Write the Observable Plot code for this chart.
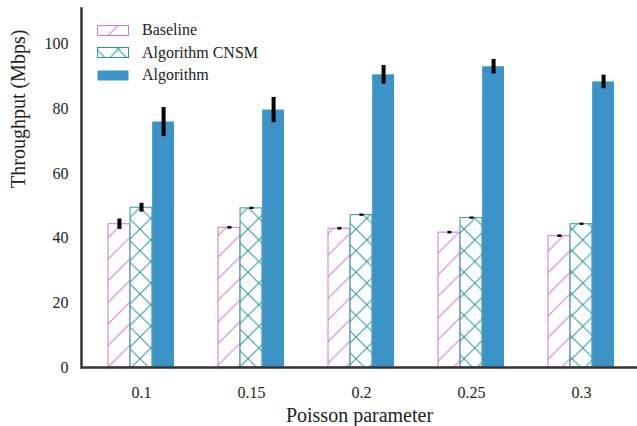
<!DOCTYPE html>
<html>
<head>
<meta charset="utf-8">
<script src="https://cdn.jsdelivr.net/npm/d3@7"></script>
<script src="https://cdn.jsdelivr.net/npm/@observablehq/plot@0.6"></script>
<style>
  html, body { margin: 0; padding: 0; background: #fff; }
  #wrap { position: relative; width: 637px; height: 426px; font-family: "Liberation Serif", serif; }
  #legend { position: absolute; left: 0; top: 0; width: 400px; }
  .row { position: absolute; left: 97px; height: 22px; display: flex; align-items: center; font-size: 16px; color: #222; white-space: nowrap; font-family: "Liberation Serif", serif; }
  .row svg { display: block; margin-right: 13px; flex: none; }
</style>
</head>
<body>
<div id="wrap"><div id="legend"></div></div>
<script>
// ---- data ----
const params = ["0.1", "0.15", "0.2", "0.25", "0.3"];
const seriesNames = ["Baseline", "Algorithm CNSM", "Algorithm"];
const baseline = [44.3, 43.2, 42.9, 41.7, 40.6];
const baselineErr = [1.6, 0.4, 0.4, 0.4, 0.4];
const cnsm = [49.4, 49.2, 47.1, 46.2, 44.3];
const cnsmErr = [1.35, 0.35, 0.35, 0.35, 0.35];
const algorithm = [75.9, 79.6, 90.5, 93.0, 88.3];
const algorithmErr = [4.5, 3.9, 2.9, 2.25, 2.1];
const yTicks = [0, 20, 40, 60, 80, 100];
const xTitle = "Poisson parameter";
const yTitle = "Throughput (Mbps)";

const rows = (vals, errs) => params.map((p, i) => ({param: p, value: vals[i], err: errs[i]}));
const dBase = rows(baseline, baselineErr);
const dCnsm = rows(cnsm, cnsmErr);
const dAlgo = rows(algorithm, algorithmErr);

// ---- styles ----
const pink = "#c87acd";
const teal = "#2b9898";
const blue = "#3b93c7";
const W = 637, H = 426, mL = 81, mR = 0, mT = 8, mB = 59, inset = 4;
const step = (W - mL - mR - inset) / params.length;
const sub = step * 0.6 / 3;

const errMark = (data, dx) => Plot.ruleX(data, {
  x: "param", y1: d => d.value - d.err, y2: d => d.value + d.err,
  dx, stroke: "#000", strokeWidth: 4
});

const svg = Plot.plot({
  width: W, height: H,
  marginLeft: mL, marginRight: mR, marginTop: mT, marginBottom: mB,
  style: {fontFamily: "'Liberation Serif', serif", fontSize: "16px", color: "#222", background: "#fff"},
  x: {type: "band", domain: params, paddingInner: 0.4, paddingOuter: 0.2, insetLeft: inset,
      tickSize: 0, tickPadding: 19, label: null},
  y: {domain: [0, 111], ticks: yTicks, tickSize: 0, tickPadding: 13, label: null},
  marks: [
    Plot.barY(dBase, {x: "param", y: "value", fill: "url(#hatchPink)", stroke: pink, strokeWidth: 1, insetRight: 2 * sub}),
    Plot.barY(dCnsm, {x: "param", y: "value", fill: "url(#hatchTeal)", stroke: teal, strokeWidth: 1, insetLeft: sub, insetRight: sub}),
    Plot.barY(dAlgo, {x: "param", y: "value", fill: blue, insetLeft: 2 * sub}),
    errMark(dBase, -sub),
    errMark(dCnsm, 0),
    errMark(dAlgo, sub),
    Plot.ruleY([0], {stroke: "#333", strokeWidth: 2.5}),
    Plot.frame({anchor: "left", stroke: "#333", strokeWidth: 2.5}),
    Plot.text([xTitle], {frameAnchor: "bottom", dy: 54, fontSize: 20, fill: "#222", text: d => d}),
    Plot.text([yTitle], {frameAnchor: "left", dx: -63, rotate: -90, fontSize: 20, fill: "#222", text: d => d})
  ]
});

// hatch patterns (userSpaceOnUse so all bars share the same lattice)
const w = 21.6;
const defs = d3.select(svg).insert("defs", ":first-child");
const pp = defs.append("pattern").attr("id", "hatchPink").attr("patternUnits", "userSpaceOnUse")
  .attr("width", w).attr("height", w).attr("x", 0).attr("y", 0);
pp.append("rect").attr("width", w).attr("height", w).attr("fill", "#fff");
pp.append("path").attr("d", `M0,${w}L${w},0M-2,2L2,-2M${w-2},${w+2}L${w+2},${w-2}`)
  .attr("stroke", pink).attr("stroke-width", 1).attr("fill", "none");
const pt = defs.append("pattern").attr("id", "hatchTeal").attr("patternUnits", "userSpaceOnUse")
  .attr("width", w).attr("height", w).attr("x", 10.4).attr("y", 13.1);
pt.append("rect").attr("width", w).attr("height", w).attr("fill", "#fff");
pt.append("path").attr("d", `M0,0L${w},${w}M0,${w}L${w},0M-2,2L2,-2M${w-2},${w+2}L${w+2},${w-2}M-2,${w-2}L2,${w+2}M${w-2},-2L${w+2},2`)
  .attr("stroke", teal).attr("stroke-width", 1).attr("fill", "none");

const wrap = document.getElementById("wrap");
wrap.insertBefore(svg, wrap.firstChild);
svg.style.position = "absolute"; svg.style.left = "0"; svg.style.top = "0";

// legend (inside the axes, top-left)
const legend = document.getElementById("legend");
const swatches = [
  {fill: "url(#hatchPink)", stroke: pink},
  {fill: "url(#hatchTeal)", stroke: teal},
  {fill: blue, stroke: "none"}
];
seriesNames.forEach((name, i) => {
  const row = document.createElement("div");
  row.className = "row";
  row.style.top = (19 + 22.5 * i) + "px";
  const s = swatches[i];
  row.innerHTML = `<svg width="32" height="11"><rect x="0.5" y="0.5" width="31" height="10" fill="${s.fill}" stroke="${s.stroke}" stroke-width="1"/></svg><span>${name}</span>`;
  legend.appendChild(row);
});
</script>
</body>
</html>
